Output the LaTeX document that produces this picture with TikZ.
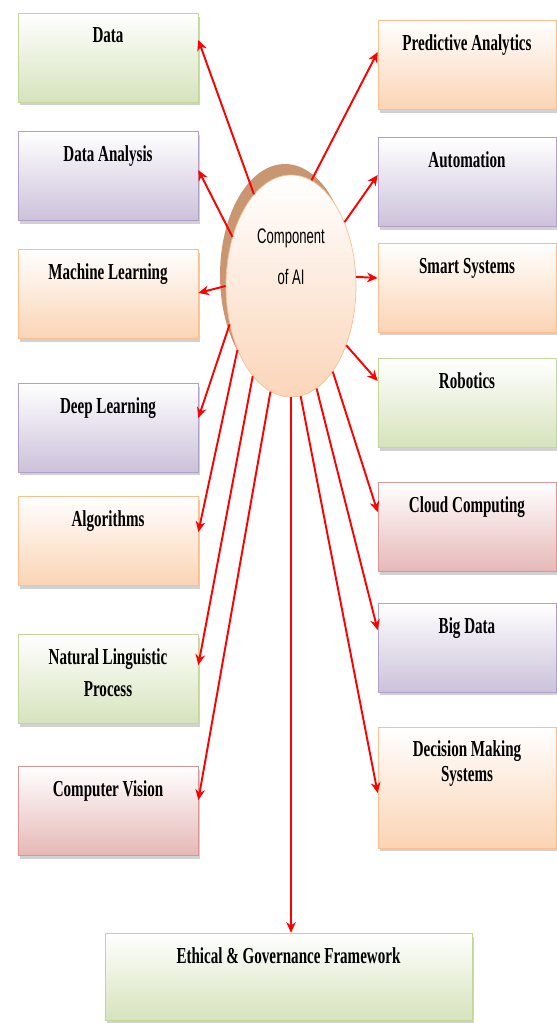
\documentclass[tikz,border=0pt]{standalone}
\usepackage{fontspec}
\newfontfamily\boxfont[FakeStretch=0.66]{Liberation Serif}
\newfontfamily\corefont[FakeStretch=0.62]{Liberation Sans}
\definecolor{greenedge}{RGB}{195, 214, 155}
\definecolor{greenfill}{RGB}{214, 227, 188}
\definecolor{purpleedge}{RGB}{178, 161, 199}
\definecolor{purplefill}{RGB}{204, 193, 218}
\definecolor{orangeedge}{RGB}{250, 191, 143}
\definecolor{orangefill}{RGB}{251, 212, 180}
\definecolor{rededge}{RGB}{217, 150, 148}
\definecolor{redfill}{RGB}{230, 184, 183}
\definecolor{coreedge}{RGB}{247, 190, 150}
\definecolor{corefill}{RGB}{251, 213, 185}
\definecolor{coreshade}{RGB}{200, 150, 112}
\usetikzlibrary{arrows.meta, calc, shadows, shapes.geometric}

\begin{document}
\begin{tikzpicture}[x=0.02cm, y=-0.02cm, every node/.style={inner sep=0pt},
  compbox/.style={draw=#1edge, top color=white, bottom color=#1fill,
    minimum width=3.6cm, minimum height=1.78cm, text height=0.6cm, text depth=1.18cm,
    align=center, font=\boxfont\bfseries\fontsize{13}{15}\selectfont,
    drop shadow={shadow xshift=0.04cm, shadow yshift=-0.07cm, opacity=0.3, fill=black!60}},
  feed/.style={red, line width=1.1pt, -{Stealth[length=6pt, width=5.5pt]}}]
\useasboundingbox (0,0) rectangle (556,1023);
% Centre
\node[ellipse, draw=coreedge, top color=white, bottom color=corefill,
  minimum width=2.6cm, minimum height=4.44cm, text height=1.125cm, text depth=1.195cm,
  align=center, font=\corefont\fontsize{12}{14.4}\selectfont,
  drop shadow={shadow xshift=-0.12cm, shadow yshift=0.22cm, opacity=1, fill=coreshade}]
  (core) at (291,286) {Component\\[9pt]of AI};
% Left column
\node[compbox=green] (data) at (108,57.5) {Data};
\node[compbox=purple] (danalysis) at (108,176) {Data Analysis};
\node[compbox=orange] (mlearn) at (108,294) {Machine Learning};
\node[compbox=purple] (dlearn) at (108,427.5) {Deep Learning};
\node[compbox=orange] (algo) at (108,541) {Algorithms};
\node[compbox=green, text height=1.235cm, text depth=0.545cm]
  (nlp) at (108,679) {Natural Linguistic\\[3pt]Process};
\node[compbox=red] (cvision) at (108,810.5) {Computer Vision};
% Right column
\node[compbox=orange, minimum width=3.56cm] (predict) at (467,65) {Predictive Analytics};
\node[compbox=purple, minimum width=3.56cm] (autom) at (467,182) {Automation};
\node[compbox=orange, minimum width=3.56cm] (smart) at (467,287.5) {Smart Systems};
\node[compbox=green, minimum width=3.56cm] (robot) at (467,403) {Robotics};
\node[compbox=red, minimum width=3.56cm] (cloud) at (467,527) {Cloud Computing};
\node[compbox=purple, minimum width=3.56cm] (bigdata) at (467,647.5) {Big Data};
\node[compbox=orange, minimum width=3.56cm, minimum height=2.42cm, text height=1.08cm, text depth=1.34cm]
  (decision) at (467,787.5) {Decision Making\\[-1pt]Systems};
% Bottom
\node[compbox=green, minimum width=7.34cm, minimum height=1.74cm, text depth=1.14cm]
  (ethics) at (288.5,976.5) {Ethical \& Governance Framework};
% Arrows to the left
\draw[feed] (core.112) -- ($(data.east)+(0,-17.5)$);
\draw[feed] (core.140) -- ($(danalysis.east)+(0,-6)$);
\draw[feed] (core.180) -- ($(mlearn.east)+(0,-1)$);
\draw[feed] (core.212) -- ($(dlearn.east)+(0,-9.5)$);
\draw[feed] (core.230) -- ($(algo.east)+(0,-9)$);
\draw[feed] (core.247) -- ($(nlp.east)+(0,-14)$);
\draw[feed] (core.259) -- ($(cvision.east)+(0,-10.5)$);
% Arrows to the right
\draw[feed] (core.79) -- ($(predict.west)+(0,-13)$);
\draw[feed] (core.50) -- ($(autom.west)+(0,-7)$);
\draw[feed] (core.8) -- ($(smart.west)+(0,-9.5)$);
\draw[feed] (core.-47) -- ($(robot.west)+(0,-22)$);
\draw[feed] (core.-64) -- ($(cloud.west)+(0,-15)$);
\draw[feed] (core.-76) -- ($(bigdata.west)+(0,-17.5)$);
\draw[feed] (core.-85) -- ($(decision.west)+(0,5.5)$);
% Arrow down
\draw[feed] (core.south) -- (core.south |- ethics.north);
\end{tikzpicture}
\end{document}
